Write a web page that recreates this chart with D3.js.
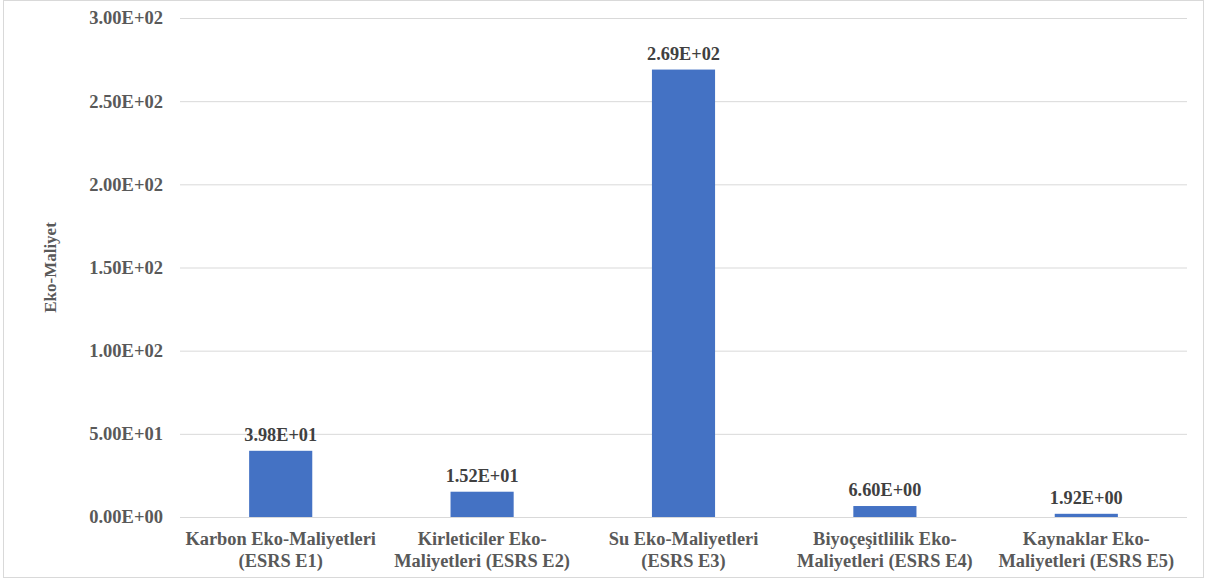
<!DOCTYPE html>
<html><head><meta charset="utf-8">
<script src="https://cdn.jsdelivr.net/npm/d3@7"></script>
<style>
body{margin:0;background:#fff}svg{display:block}
svg text{font-family:"Liberation Serif",serif !important;font-weight:bold}
</style>
</head><body>
<svg id="c" width="1207" height="581"></svg>
<script>
const categories = [
  "Karbon Eko-Maliyetleri\n(ESRS E1)",
  "Kirleticiler Eko-\nMaliyetleri (ESRS E2)",
  "Su Eko-Maliyetleri\n(ESRS E3)",
  "Biyoçeşitlilik Eko-\nMaliyetleri (ESRS E4)",
  "Kaynaklar Eko-\nMaliyetleri (ESRS E5)"
];
const values = [39.8, 15.2, 269, 6.6, 1.92];
const valueLabels = ["3.98E+01", "1.52E+01", "2.69E+02", "6.60E+00", "1.92E+00"];
const yTicks = [0, 50, 100, 150, 200, 250, 300];
const yTickLabels = ["0.00E+00", "5.00E+01", "1.00E+02", "1.50E+02", "2.00E+02", "2.50E+02", "3.00E+02"];
const yTitle = "Eko-Maliyet";

const svg = d3.select("#c");
const m = {left: 180, right: 1187, top: 18, bottom: 517};

svg.append("rect").attr("x", 3.5).attr("y", 0.5).attr("width", 1200).attr("height", 577)
  .attr("fill", "#fff").attr("stroke", "#d9d9d9");

const x = d3.scaleBand().domain(categories).range([m.left, m.right]).padding(0);
const y = d3.scaleLinear().domain([0, 300]).range([m.bottom, m.top]);
const barW = x.bandwidth() / 3.19;

// gridlines + y tick labels
const yAxis = d3.axisLeft(y).tickValues(yTicks)
  .tickFormat((d, i) => yTickLabels[i]).tickSize(-(m.right - m.left)).tickPadding(17);
const gy = svg.append("g").attr("transform", `translate(${m.left},0)`).call(yAxis);
gy.select(".domain").remove();
gy.selectAll(".tick line").attr("stroke", "#d9d9d9").attr("stroke-width", 1);
gy.selectAll(".tick text").attr("fill", "#595959").style("font-size", "18.5px");

// bars
svg.selectAll("rect.bar").data(values).enter().append("rect").attr("class", "bar")
  .attr("x", (d, i) => x(categories[i]) + x.bandwidth() / 2 - barW / 2)
  .attr("width", barW)
  .attr("y", d => y(d))
  .attr("height", d => y(0) - y(d))
  .attr("fill", "#4472c4");

// value labels
svg.selectAll("text.vl").data(values).enter().append("text").attr("class", "vl")
  .attr("x", (d, i) => x(categories[i]) + x.bandwidth() / 2)
  .attr("y", d => y(d) - 10)
  .attr("text-anchor", "middle")
  .attr("fill", "#404040").style("font-size", "18.3px")
  .text((d, i) => valueLabels[i]);

// x axis labels
const xAxis = d3.axisBottom(x).tickSize(0).tickFormat("");
const gx = svg.append("g").attr("transform", `translate(0,${m.bottom})`).call(xAxis);
gx.select(".domain").remove();
gx.selectAll(".tick").each(function(d) {
  const t = d3.select(this).append("text").attr("text-anchor", "middle")
    .attr("fill", "#595959").style("font-size", "18.4px");
  d.split("\n").forEach((line, j) => {
    t.append("tspan").attr("x", 0).attr("y", 28 + j * 22).text(line);
  });
});

// y title
svg.append("text").attr("transform", `translate(56,${(m.top + m.bottom) / 2}) rotate(-90)`)
  .attr("text-anchor", "middle").attr("fill", "#595959").style("font-size", "17px")
  .text(yTitle);
</script>
</body></html>
